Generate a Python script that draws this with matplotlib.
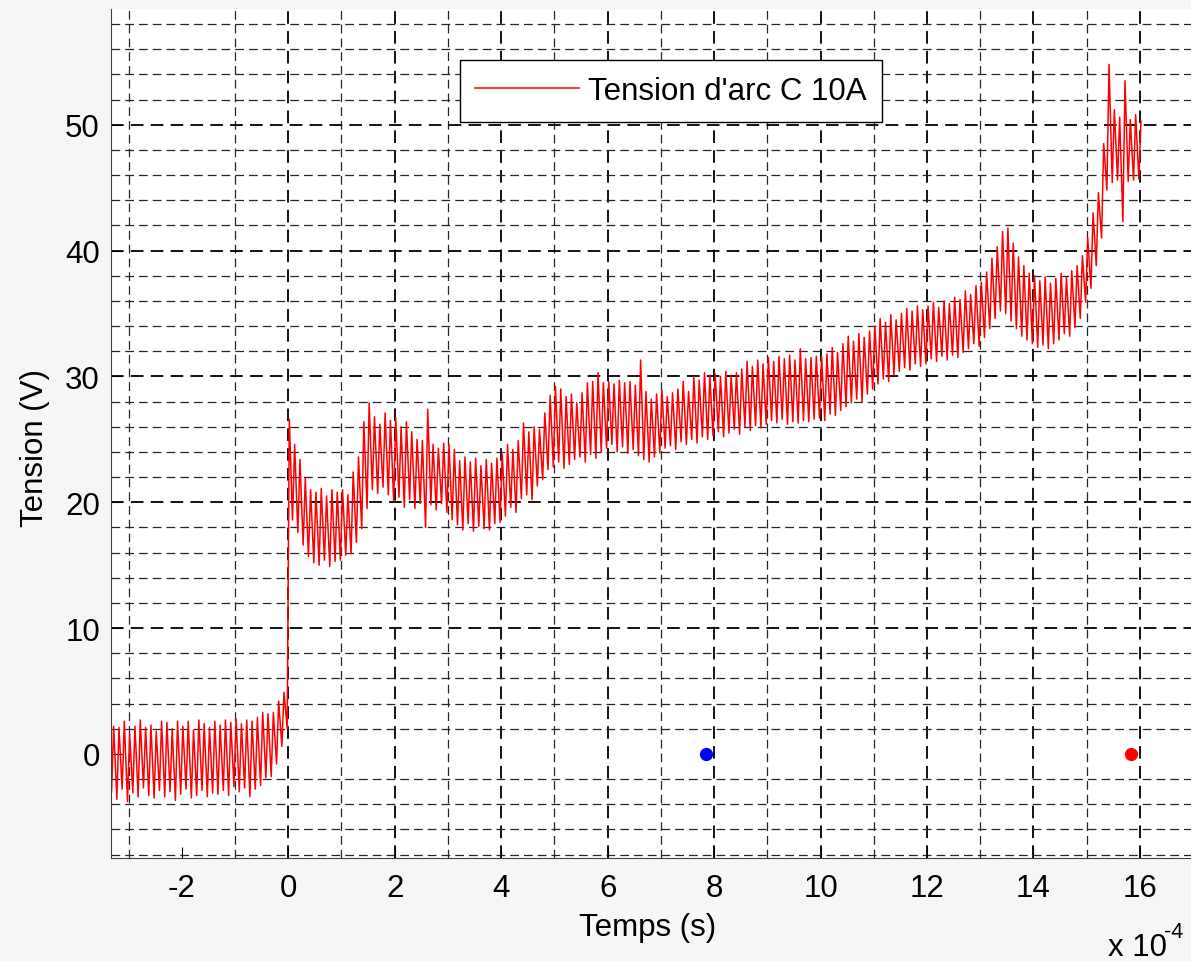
import numpy as np
import matplotlib
matplotlib.use('Agg')
import matplotlib.pyplot as plt

plt.rcParams['font.family'] = ['Liberation Sans', 'DejaVu Sans']
plt.rcParams['axes.unicode_minus'] = False

# sample times in units of 1e-4 s (one stroke of the arc signal per sample)
t = np.round(np.arange(-33, 161) * 0.1, 1)

# upper / lower ends of each stroke (V)
hi = ([2.2, 2.1, 2.6, 1.6, 2.2, 2.7, 2.1, 2.3, 1.8, 2.6]          # -3.3 .. -2.4
      + [2.5, 2.0, 2.6, 2.2, 2.6, 1.9, 2.7, 2.4, 2.1, 2.6]        # -2.3 .. -1.4
      + [2.3, 2.7, 2.5, 2.8, 2.4, 2.7, 2.6, 2.9, 3.3, 3.2]        # -1.3 .. -0.4
      + [3.3, 4.2, 4.9]                                           # -0.3 .. -0.1
      + [26.6, 24.6, 23.4, 21.9, 21.0, 20.8, 21.1, 20.5, 21.0, 20.8]
      + [21.0, 20.6, 22.4, 23.6, 26.4, 27.9, 26.8, 26.2, 27.1, 26.5]
      + [26.7, 26.0, 26.4, 25.6, 25.0, 24.9, 27.4, 24.6, 24.3, 24.7]
      + [24.6, 24.2, 23.3, 23.6, 23.2, 23.5, 22.9, 23.4, 23.1, 23.5]
      + [23.8, 24.6, 24.2, 24.9, 26.3, 25.6, 26.0, 25.8, 27.1, 28.5]
      + [29.2, 29.0, 28.4, 28.6, 27.9, 28.7, 29.5, 29.6, 30.3, 29.5]
      + [29.6, 29.4, 29.7, 29.5, 29.6, 29.3, 31.3, 28.8, 28.2, 28.6]
      + [28.9, 28.4, 28.7, 29.0, 29.6, 28.8, 30.0, 29.7, 30.3, 30.1]
      + [30.2, 30.0, 30.4, 30.1, 30.3, 30.6, 31.2, 30.8, 31.3, 31.0]
      + [31.5, 31.2, 31.6, 31.4, 31.7, 31.3, 32.2, 31.4, 31.5, 31.6]
      + [31.6, 31.8, 32.3, 31.9, 32.6, 33.2, 32.8, 33.4, 33.1, 33.6]
      + [34.0, 34.6, 34.3, 34.9, 34.5, 35.0, 35.4, 35.2, 35.6, 35.3]
      + [35.6, 35.9, 35.5, 36.0, 35.8, 36.3, 36.1, 36.8, 36.5, 37.2]
      + [37.5, 38.3, 39.4, 40.3, 41.5, 41.8, 40.6, 39.5, 38.8, 38.2]
      + [38.0, 37.6, 37.9, 37.4, 37.8, 38.2, 37.9, 38.4, 38.8, 39.6]
      + [41.0, 43.0, 44.6, 48.5, 54.8, 51.2, 50.6, 53.5, 50.4, 50.8]
      + [50.3])

lo = ([-3.0, -3.6, -2.8, -3.8, -3.1, -3.4, -2.7, -3.3, -3.5, -2.9]
      + [-3.4, -3.0, -3.7, -3.2, -2.8, -3.5, -3.3, -2.9, -3.4, -3.1]
      + [-3.2, -2.9, -3.3, -2.6, -3.0, -2.7, -3.4, -2.8, -2.5, -1.9]
      + [-1.8, -0.8, 0.6]
      + [2.0, 18.6, 17.6, 16.6, 15.7, 15.2, 15.0, 15.4, 14.9, 15.3]
      + [15.4, 15.8, 15.9, 16.8, 17.9, 19.5, 21.0, 20.7, 21.2, 20.6]
      + [20.1, 20.4, 19.6, 20.2, 19.5, 19.9, 18.0, 19.8, 19.4, 19.9]
      + [19.2, 18.6, 18.2, 17.8, 18.3, 17.7, 18.1, 17.9, 17.8, 18.3]
      + [18.4, 18.9, 19.6, 19.2, 20.3, 20.6, 20.2, 21.3, 21.8, 22.6]
      + [22.8, 23.2, 22.7, 23.0, 23.4, 23.6, 23.2, 23.8, 23.5, 24.0]
      + [24.3, 24.6, 24.0, 24.4, 23.9, 24.2, 23.7, 23.4, 23.2, 23.6]
      + [23.9, 24.3, 24.5, 24.2, 24.8, 24.6, 25.0, 24.7, 25.2, 25.0]
      + [25.3, 25.6, 25.2, 25.5, 25.8, 25.4, 26.0, 25.7, 26.1, 25.9]
      + [26.2, 26.5, 26.3, 26.6, 26.2, 26.4, 26.3, 26.5, 26.4, 26.6]
      + [26.7, 26.5, 27.0, 26.9, 27.3, 27.6, 27.9, 28.2, 28.0, 28.6]
      + [29.0, 29.4, 29.8, 29.6, 30.1, 30.4, 30.7, 30.5, 31.0, 30.8]
      + [31.0, 31.4, 31.2, 31.6, 31.3, 31.7, 31.5, 31.9, 32.2, 32.6]
      + [32.4, 33.1, 33.8, 34.6, 35.2, 35.0, 34.4, 33.8, 33.2, 32.9]
      + [32.6, 32.3, 32.5, 32.2, 32.6, 32.9, 33.4, 33.2, 33.9, 34.6]
      + [35.9, 37.0, 38.8, 41.0, 44.8, 45.4, 45.6, 42.3, 45.5, 45.6]
      + [45.7])

# marked instants (1e-4 s) on the 0 V line
t_blue = 7.84
t_red = 15.83

# zigzag trace: bottom then top of each stroke
x = np.empty(2 * len(t))
y = np.empty(2 * len(t))
x[0::2] = t - 0.02
x[1::2] = t + 0.02
y[0::2] = lo
y[1::2] = hi

W, H = 1191, 962
FS = 22.5
fig = plt.figure(figsize=(W / 100, H / 100), dpi=100, facecolor='#f6f6f6')
ax = fig.add_axes([111 / W, 1 - 859 / H, 1 - 111 / W, (859 - 10) / H])
ax.set_facecolor('white')

ax.set_xlim(-3.33e-4, 16.96e-4)
ax.set_ylim(-8.27, 59.2)

# grid: black dashed on majors, thinner on minors (none at x=-2, y=0 as in the original)
for gx in range(-3, 17):
    if gx == -2:
        continue
    major = gx % 2 == 0
    ax.axvline(gx * 1e-4, color='black' if major else '#262626', lw=1.3 if major else 0.9,
               ls=(0, (7, 4)), zorder=0)
for gy in range(-8, 60, 2):
    if gy == 0:
        continue
    major = gy % 10 == 0
    ax.axhline(gy, color='black' if major else '#262626', lw=1.3 if major else 0.9,
               ls=(0, (7, 4)), zorder=0)

ax.plot(x * 1e-4, y, color='red', lw=1.1, label="Tension d'arc C 10A", zorder=2)
ax.plot(t_blue * 1e-4, 0, 'o', color='blue', ms=8.5, zorder=3)
ax.plot(t_red * 1e-4, 0, 'o', color='red', ms=8.5, zorder=3)

ax.set_xticks(np.arange(-2, 17, 2) * 1e-4)
ax.set_xticklabels([str(v) for v in range(-2, 17, 2)])
ax.set_yticks(range(0, 51, 10))
ax.tick_params(direction='in', length=8, width=0.8, labelsize=FS, colors='black')
ax.tick_params(axis='x', pad=11)
ax.tick_params(axis='y', pad=8)
for s in ['top', 'right']:
    ax.spines[s].set_visible(False)
for s in ['left', 'bottom']:
    ax.spines[s].set_color('#404040')
    ax.spines[s].set_linewidth(0.8)

fig.text(648 / W, 1 - 928 / H, 'Temps (s)', ha='center', va='center', fontsize=FS)
fig.text(35 / W, 1 - 448 / H, 'Tension (V)', ha='center', va='center', rotation=90, fontsize=FS)
fig.text(1108 / W, 1 - 956 / H, 'x 10', ha='left', va='baseline', fontsize=FS)
fig.text(1164 / W, 1 - 938 / H, '-4', ha='left', va='baseline', fontsize=15.5)

leg = ax.legend(loc='center', bbox_to_anchor=(671 / W, 1 - 92 / H), bbox_transform=fig.transFigure,
                fontsize=FS, handlelength=3.3, handletextpad=0.3, borderpad=0.5,
                fancybox=False, framealpha=1, edgecolor='black')
leg.get_frame().set_linewidth(1.0)

fig.savefig('out.png', dpi=100, facecolor=fig.get_facecolor())
